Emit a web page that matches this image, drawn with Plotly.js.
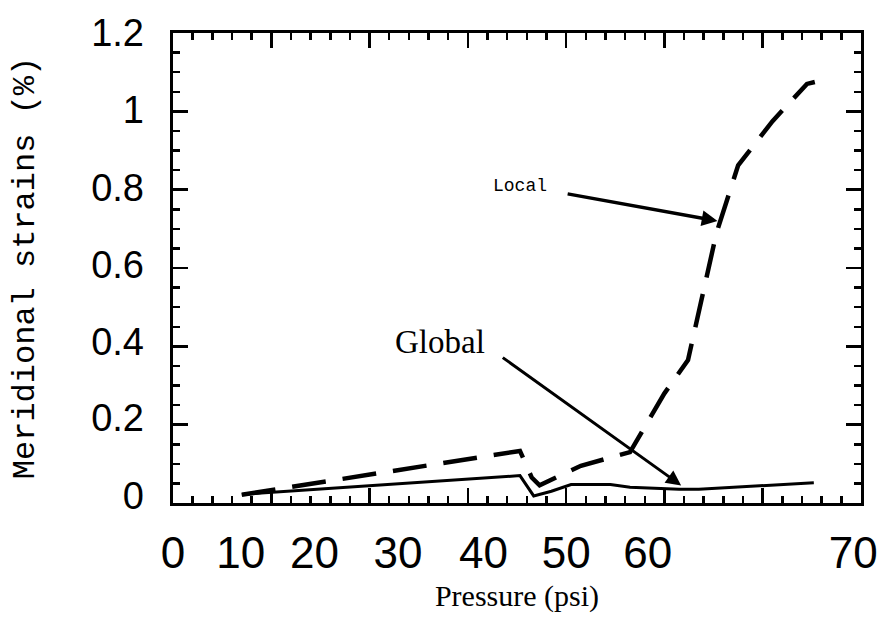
<!DOCTYPE html>
<html>
<head>
<meta charset="utf-8">
<script src="https://cdn.plot.ly/plotly-3.0.1.min.js"></script>
<style>html,body{margin:0;padding:0;background:#fff;}#chart{width:889px;height:621px;}</style>
</head>
<body>
<div id="chart"></div>
<script>
// Local (dashed) meridional strain vs pressure
const localPressure = [7.0, 35.3, 36.5, 37.3, 41.5, 46.5, 50.0, 52.4, 55.3, 57.5, 61.0, 64.5, 65.3];
const localStrain   = [0.021, 0.133, 0.065, 0.045, 0.095, 0.13, 0.28, 0.365, 0.69, 0.862, 0.975, 1.07, 1.075];
// Global (solid) meridional strain vs pressure
const globalPressure = [7.0, 35.3, 36.7, 38.5, 40.5, 44.5, 46.5, 51.5, 53.5, 58.5, 65.2];
const globalStrain   = [0.022, 0.07, 0.018, 0.03, 0.047, 0.047, 0.04, 0.035, 0.035, 0.043, 0.052];
// tick labels as printed, at the places where they sit beside the frame
const xTickText = ["0", "10", "20", "30", "40", "50", "60", "70"];
const xTickPos  = [0, 6.9, 14.4, 22.9, 31.6, 40.0, 48.3, 69.2];
const yTickText = ["0", "0.2", "0.4", "0.6", "0.8", "1", "1.2"];
const yTickPos  = [0.018, 0.218, 0.413, 0.608, 0.805, 1.005, 1.2];

const traces = [
  {x: globalPressure, y: globalStrain, type: 'scatter', mode: 'lines',
   line: {color: '#000', width: 3}, hoverinfo: 'skip', showlegend: false},
  {x: localPressure, y: localStrain, type: 'scatter', mode: 'lines',
   line: {color: '#000', width: 4.5, dash: '34px,17px'}, hoverinfo: 'skip', showlegend: false},
  {x: [0, 70], y: [null, null], xaxis: 'x2', yaxis: 'y2', type: 'scatter', mode: 'lines',
   hoverinfo: 'skip', showlegend: false}
];

const layout = {
  width: 889, height: 621,
  margin: {l: 173, r: 28, t: 33, b: 118},
  paper_bgcolor: '#fff', plot_bgcolor: '#fff',
  showlegend: false,
  xaxis: {
    range: [0, 70], showgrid: false, zeroline: false,
    showline: true, linecolor: '#000', linewidth: 3, mirror: 'allticks',
    ticks: 'inside', tickmode: 'linear', tick0: 0, dtick: 10,
    ticklen: 15, tickwidth: 2.5, tickcolor: '#000',
    minor: {ticks: 'inside', dtick: 2, ticklen: 7, tickwidth: 2.5, tickcolor: '#000'},
    showticklabels: false
  },
  yaxis: {
    range: [0, 1.2], showgrid: false, zeroline: false,
    showline: true, linecolor: '#000', linewidth: 3, mirror: 'allticks',
    ticks: 'inside', tickmode: 'linear', tick0: 0, dtick: 0.2,
    ticklen: 15, tickwidth: 2.5, tickcolor: '#000',
    minor: {ticks: 'inside', dtick: 0.05, ticklen: 7, tickwidth: 2.5, tickcolor: '#000'},
    showticklabels: false
  },
  xaxis2: {
    overlaying: 'x', anchor: 'y2', side: 'bottom', range: [0, 70],
    showgrid: false, zeroline: false, showline: false, ticks: '',
    tickmode: 'array', tickvals: xTickPos, ticktext: xTickText,
    ticklabelstandoff: 20,
    tickfont: {family: 'Liberation Sans', size: 44, color: '#000'},
    title: {text: 'Pressure (psi)', font: {family: 'Liberation Serif', size: 30, color: '#000'}, standoff: 8}
  },
  yaxis2: {
    overlaying: 'y', anchor: 'x2', side: 'left', range: [0, 1.2],
    showgrid: false, zeroline: false, showline: false, ticks: '',
    tickmode: 'array', tickvals: yTickPos, ticktext: yTickText,
    ticklabelstandoff: 28,
    tickfont: {family: 'Liberation Sans', size: 38, color: '#000'},
    title: {text: 'Meridional strains (%)', font: {family: 'Liberation Mono', size: 32, color: '#000'}, standoff: 46}
  },
  annotations: [
    {x: 55.4, y: 0.72, xref: 'x', yref: 'y', ax: 40.0, ay: 0.79, axref: 'x', ayref: 'y',
     showarrow: true, arrowhead: 2, arrowsize: 0.9, arrowwidth: 3.5, arrowcolor: '#000', text: ''},
    {x: 51.7, y: 0.045, xref: 'x', yref: 'y', ax: 33.4, ay: 0.374, axref: 'x', ayref: 'y',
     showarrow: true, arrowhead: 2, arrowsize: 1, arrowwidth: 3, arrowcolor: '#000', text: ''},
    {x: 35.3, y: 0.81, xref: 'x', yref: 'y', showarrow: false, text: 'Local',
     font: {family: 'Liberation Mono', size: 18, color: '#000'}},
    {x: 27.2, y: 0.41, xref: 'x', yref: 'y', showarrow: false, text: 'Global',
     font: {family: 'Liberation Serif', size: 33, color: '#000'}}
  ]
};

Plotly.newPlot('chart', traces, layout, {staticPlot: true, displayModeBar: false});
</script>
</body>
</html>
